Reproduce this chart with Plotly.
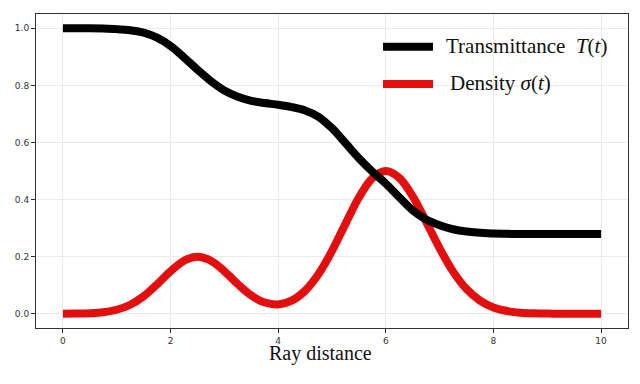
import plotly.graph_objects as go

# ---- data ----
t = [0.0, 0.25, 0.5, 0.75, 1.0, 1.25, 1.5, 1.75, 2.0, 2.25, 2.5, 2.75, 3.0, 3.25, 3.5, 3.75,
     4.0, 4.25, 4.5, 4.75, 5.0, 5.25, 5.5, 5.75, 6.0, 6.25, 6.5, 6.75, 7.0, 7.25, 7.5, 7.75,
     8.0, 8.25, 8.5, 8.75, 9.0, 9.25, 9.5, 9.75, 10.0]

transmittance = [1.000, 1.000, 1.000, 0.999, 0.997, 0.993, 0.985, 0.967, 0.938, 0.898, 0.855,
                 0.815, 0.782, 0.760, 0.746, 0.738, 0.732, 0.724, 0.712, 0.690, 0.650, 0.598,
                 0.545, 0.498, 0.456, 0.408, 0.362, 0.330, 0.310, 0.296, 0.288, 0.284, 0.281,
                 0.280, 0.279, 0.279, 0.279, 0.279, 0.279, 0.279, 0.279]

density = [0.000, 0.0005, 0.0018, 0.0053, 0.0139, 0.0315, 0.0612, 0.1028, 0.1488, 0.1857, 0.2000,
           0.1858, 0.1491, 0.1038, 0.0641, 0.0393, 0.0326, 0.0457, 0.0805, 0.1390, 0.2200, 0.3149,
           0.4072, 0.4750, 0.5000, 0.4760, 0.4110, 0.3220, 0.2290, 0.1475, 0.0862, 0.0457, 0.0220,
           0.0096, 0.0038, 0.0014, 0.0004, 0.0001, 0.0, 0.0, 0.0]

x_ticks = [0, 2, 4, 6, 8, 10]
y_ticks = [0.0, 0.2, 0.4, 0.6, 0.8, 1.0]

series_names = ["Transmittance\u00a0\u00a0<i>T</i>(<i>t</i>)", "Density <i>σ</i>(<i>t</i>)"]
x_title = "Ray distance"

BLACK = "#000000"
RED = "#e30f0f"
SERIF = "Liberation Serif, Times New Roman, serif"

# ---- layout geometry (page pixels; the page body has an 8px margin) ----
OFF = 8
W, H = 632, 376
L, R, T, B = 28, 12, 6, 56
PW, PH = W - L - R, H - T - B


def px_x(x):
    return (x - OFF - L) / PW


def px_y(y):
    return (H - B - (y - OFF)) / PH


fig = go.Figure()
fig.add_trace(go.Scatter(x=t, y=density, mode="lines", name=series_names[1],
                         line=dict(color=RED, width=8, shape="spline"), showlegend=False))
fig.add_trace(go.Scatter(x=t, y=transmittance, mode="lines", name=series_names[0],
                         line=dict(color=BLACK, width=8, shape="spline"), showlegend=False))

axis_common = dict(showline=True, mirror=True, linecolor="#333333", linewidth=1,
                   ticks="outside", ticklen=4, tickwidth=1, tickcolor="#333333",
                   showgrid=True, gridcolor="#ebebeb", gridwidth=1, zeroline=False,
                   automargin=False,
                   tickfont=dict(family="DejaVu Sans", size=9, color="#333333"))

fig.update_layout(
    width=W, height=H,
    margin=dict(l=L, r=R, t=T, b=B),
    paper_bgcolor="white", plot_bgcolor="white",
    xaxis=dict(range=[-0.5, 10.5], tickvals=x_ticks, ticktext=[str(v) for v in x_ticks], **axis_common),
    yaxis=dict(range=[-0.05, 1.05], tickvals=y_ticks, ticktext=[f"{v:.1f}" for v in y_ticks], **axis_common),
    showlegend=False,
)

# x-axis title
fig.add_annotation(x=px_x(320), y=px_y(353), xref="paper", yref="paper", text=x_title,
                   showarrow=False, xanchor="center", yanchor="middle",
                   font=dict(family=SERIF, size=20, color="#111111"))

# manual legend
legend_rows = [(46.7, BLACK, series_names[0], 444), (84.0, RED, series_names[1], 448)]
for ypix, col, name, xtext in legend_rows:
    fig.add_shape(type="line", xref="paper", yref="paper",
                  x0=px_x(383), x1=px_x(433), y0=px_y(ypix), y1=px_y(ypix),
                  line=dict(color=col, width=8))
    fig.add_annotation(x=px_x(xtext), y=px_y(ypix - 1), xref="paper", yref="paper", text=name,
                       showarrow=False, xanchor="left", yanchor="middle",
                       font=dict(family=SERIF, size=21, color="#111111"))

fig.write_html("out.html")
